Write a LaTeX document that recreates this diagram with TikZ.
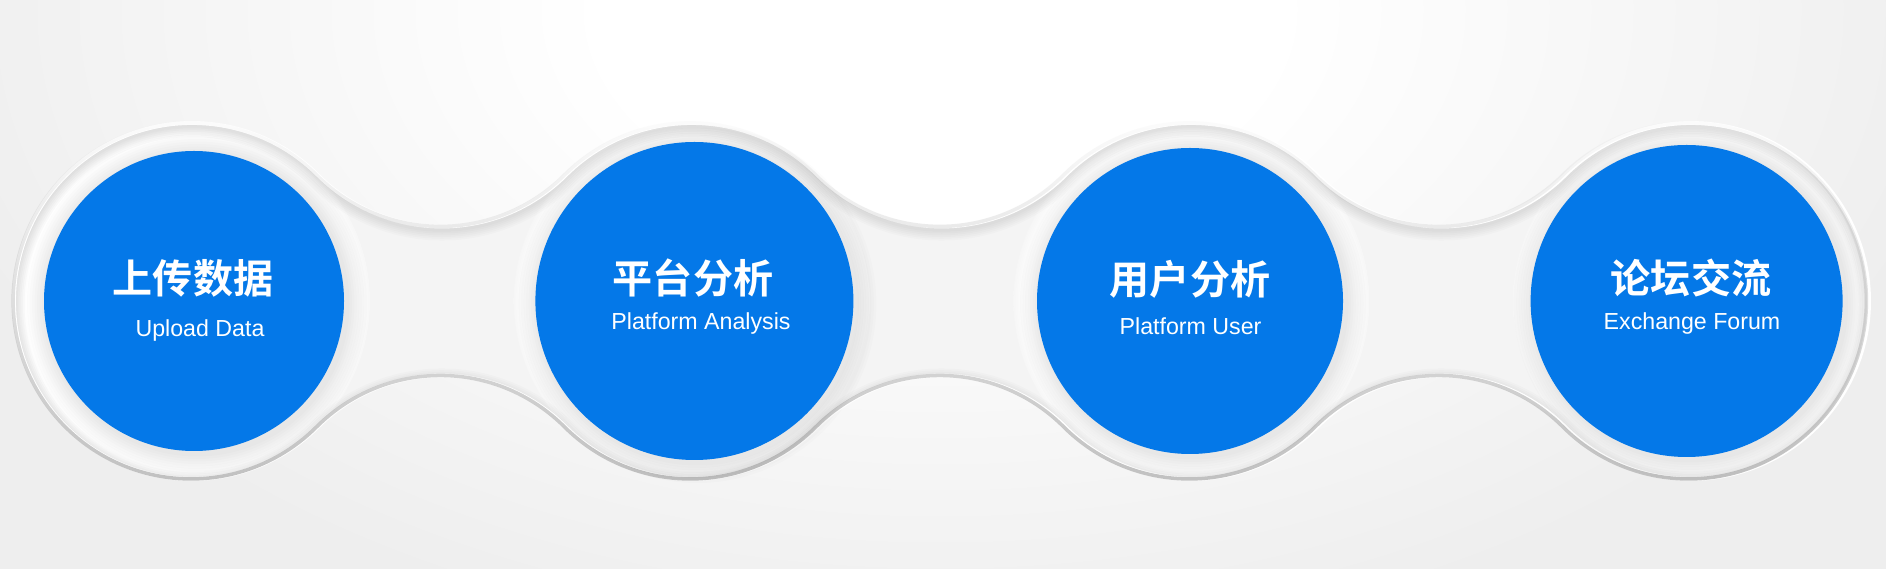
\documentclass[tikz,border=0pt]{standalone}
\usepackage{fontspec}
\setmainfont{Liberation Sans}
\newfontfamily\cjk{Noto Sans CJK SC}[BoldFont={Noto Sans CJK SC Bold}]
\usetikzlibrary{fadings}
\definecolor{discblue}{RGB}{4,120,232}
\definecolor{bggray}{RGB}{238,238,238}
\definecolor{waistgray}{RGB}{244,244,244}
\definecolor{rimgray}{RGB}{190,190,190}
\pgfdeclareradialshading{glow}{\pgfpoint{0bp}{0bp}}{color(0bp)=(white); color(8bp)=(white); color(25bp)=(bggray); color(50bp)=(bggray)}
\pgfdeclareradialshading{ringlight}{\pgfpoint{0bp}{0bp}}{color(0bp)=(white); color(23bp)=(white); color(25.5bp)=(waistgray); color(50bp)=(waistgray)}
% chain of rings and waists
\def\Ro{1.78}
\def\hh{0.745}
\def\dd{2.4985}
\pgfmathsetmacro\Rw{(\dd*\dd+\hh*\hh-\Ro*\Ro)/(2*(\Ro-\hh))}
\pgfmathsetmacro\wang{atan2(\hh+\Rw,\dd)}
\newcommand\chainpath{([shift={(\wang:\Ro)}]1.92,2.68)
  arc[start angle=\wang, end angle=360-\wang, radius=\Ro]
  arc[start angle=180-\wang, end angle=\wang, radius=\Rw]
  arc[start angle=180+\wang, end angle=360-\wang, radius=\Ro]
  arc[start angle=180-\wang, end angle=\wang, radius=\Rw]
  arc[start angle=180+\wang, end angle=360-\wang, radius=\Ro]
  arc[start angle=180-\wang, end angle=\wang, radius=\Rw]
  arc[start angle=180+\wang, end angle=540-\wang, radius=\Ro]
  arc[start angle=-\wang, end angle=\wang-180, radius=\Rw]
  arc[start angle=\wang, end angle=180-\wang, radius=\Ro]
  arc[start angle=-\wang, end angle=\wang-180, radius=\Rw]
  arc[start angle=\wang, end angle=180-\wang, radius=\Ro]
  arc[start angle=-\wang, end angle=\wang-180, radius=\Rw]
  -- cycle}
\tikzset{
  disc/.style={circle, fill=discblue, inner sep=0pt},
  headline/.style={text=white, font=\cjk\bfseries\fontsize{11.4}{13}\selectfont},
  subline/.style={text=white, anchor=base, font=\fontsize{6.6}{8}\selectfont},
}
\begin{document}
\begin{tikzpicture}
\useasboundingbox (0,0) rectangle (18.86,5.69);
\fill[bggray] (0,0) rectangle (18.86,5.69);
\begin{scope}
  \clip (0,0) rectangle (18.86,5.69);
  \shade[shading=glow] (9.4,5.6) ellipse (10.5 and 6.5);
\end{scope}
\fill[waistgray] \chainpath;
\begin{scope}
  \clip \chainpath;
  \foreach \x in {1.92,6.917,11.914,16.91}
    \shade[shading=ringlight] (\x,2.68) circle (\Ro);
  \foreach \w in {1,2,...,6}
    \draw[black, opacity=0.014, line width=\w pt, yshift=-0.035cm] \chainpath;
\end{scope}
\draw[white, line width=1.1pt] \chainpath;
\draw[rimgray, line width=1pt, path fading=north] \chainpath;
% blue discs with a soft shadow
\foreach \i/\x/\r in {1/1.94/1.50, 2/6.944/1.59, 3/11.90/1.53, 4/16.866/1.56}{
  \foreach \k in {1,...,8}
    \fill[black, opacity=0.011] (\x+0.03,2.65) circle (\r+0.025*\k);
  \node[disc, minimum size={2*\r*1cm}] (d\i) at (\x,2.68) {};
}
\node[headline] (h1) at (1.93,2.91) {上传数据};
\node[headline] (h2) at (6.93,2.91) {平台分析};
\node[headline] (h3) at (11.90,2.90) {用户分析};
\node[headline] (h4) at (16.91,2.91) {论坛交流};
\node[subline] (s1) at (2.00,2.32) {Upload Data};
\node[subline] (s2) at (7.01,2.39) {Platform Analysis};
\node[subline] (s3) at (11.905,2.34) {Platform User};
\node[subline] (s4) at (16.92,2.39) {Exchange Forum};
\end{tikzpicture}
\end{document}
